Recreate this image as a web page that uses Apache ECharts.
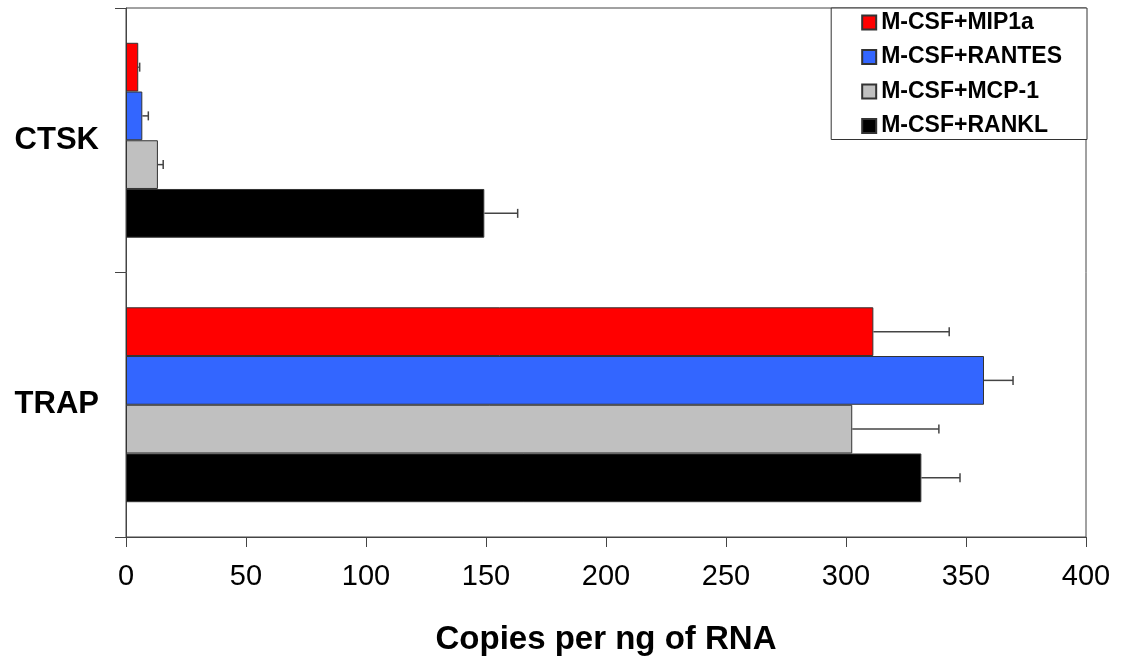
<!DOCTYPE html>
<html style="height: 100%">
<head>
    <meta charset="utf-8" />
    <title>Copies per ng of RNA</title>
    <script type="text/javascript" src="https://cdn.jsdelivr.net/npm/echarts@6/dist/echarts.min.js"></script>
</head>
<body style="height: 100%; margin: 0; background: #fff">
<div id="chart" style="width: 1121px; height: 661px"></div>
<script type="text/javascript">
      // data
      var categories = ["CTSK", "TRAP"];
      var seriesNames = ["M-CSF+MIP1a", "M-CSF+RANTES", "M-CSF+MCP-1", "M-CSF+RANKL"];
      var mip1a = [5.1, 311.4];
      var mip1aErr = [0.6, 31.6];
      var rantes = [6.8, 357.5];
      var rantesErr = [2.5, 12.1];
      var mcp1 = [13.3, 302.6];
      var mcp1Err = [2.2, 36.1];
      var rankl = [149.3, 331.4];
      var ranklErr = [13.9, 16.1];
      var xTicks = [0, 50, 100, 150, 200, 250, 300, 350, 400];

      var values = [mip1a, rantes, mcp1, rankl];
      var errors = [mip1aErr, rantesErr, mcp1Err, ranklErr];
      var colors = ["#ff0000", "#3366ff", "#c0c0c0", "#000000"];
      var gap = 0.263; // category gap fraction
      var font = "'Liberation Sans', Arial, sans-serif";

      var myChart = echarts.init(document.getElementById("chart"));

      // error bars (upper side only) drawn next to each bar
      function errRender(k) {
        return function (params, api) {
          var cat = api.value(0), val = api.value(1), hi = api.value(2);
          var start = api.coord([val, cat]);
          var end = api.coord([hi, cat]);
          var band = api.size([0, 1])[1];
          var barH = band * (1 - gap) / seriesNames.length;
          var y = start[1] - band * (1 - gap) / 2 + barH * (k + 0.5);
          var st = { stroke: "#444", lineWidth: 1.5 };
          return {
            type: "group",
            children: [
              { type: "line", shape: { x1: start[0], y1: y, x2: end[0], y2: y }, style: st },
              { type: "line", shape: { x1: end[0], y1: y - 4.5, x2: end[0], y2: y + 4.5 }, style: st }
            ]
          };
        };
      }

      var series = [];
      seriesNames.forEach(function (name, k) {
        series.push({
          name: name,
          type: "bar",
          data: values[k],
          barGap: "0%",
          barCategoryGap: (gap * 100) + "%",
          itemStyle: { color: colors[k], borderColor: "#333", borderWidth: 1 },
          z: 2
        });
      });
      seriesNames.forEach(function (name, k) {
        series.push({
          type: "custom",
          renderItem: errRender(k),
          data: categories.map(function (c, i) {
            return [i, values[k][i], values[k][i] + errors[k][i]];
          }),
          encode: { x: [1, 2], y: 0 },
          z: 3,
          silent: true
        });
      });

      var option = {
        animation: false,
        textStyle: { fontFamily: font },
        grid: {
          left: 126, right: 35, top: 8, bottom: 120,
          show: true, borderColor: "#444", borderWidth: 1
        },
        legend: {
          data: seriesNames,
          orient: "vertical",
          right: 34,
          top: 8,
          backgroundColor: "#fff",
          borderColor: "#333",
          borderWidth: 1,
          borderRadius: 0,
          padding: [3, 25, 2, 30],
          itemGap: 11.5,
          itemWidth: 14,
          itemHeight: 14,
          icon: "rect",
          textStyle: { fontFamily: font, fontSize: 23, fontWeight: "bold", color: "#000", lineHeight: 22 }
        },
        xAxis: {
          type: "value",
          min: xTicks[0],
          max: xTicks[xTicks.length - 1],
          interval: xTicks[1] - xTicks[0],
          name: "Copies per ng of RNA",
          nameLocation: "middle",
          nameGap: 86,
          nameTextStyle: { fontFamily: font, fontSize: 33, fontWeight: "bold", color: "#000" },
          axisLine: { show: true, lineStyle: { color: "#444", width: 1 } },
          axisTick: { show: true, length: 10, lineStyle: { color: "#444" } },
          axisLabel: { fontFamily: font, fontSize: 29, color: "#000", margin: 25 },
          splitLine: { show: false }
        },
        yAxis: {
          type: "category",
          data: categories,
          inverse: true,
          axisLine: { show: true, lineStyle: { color: "#444", width: 1 } },
          axisTick: { show: true, length: 11, lineStyle: { color: "#444" } },
          axisLabel: { fontFamily: font, fontSize: 31, fontWeight: "bold", color: "#000", margin: 27 }
        },
        series: series
      };
      myChart.setOption(option);
</script>
</body>
</html>
